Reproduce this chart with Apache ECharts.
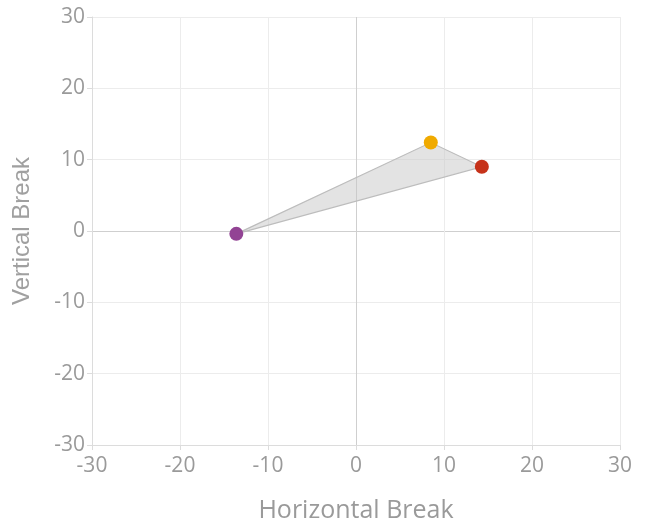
<!DOCTYPE html>
<html>
<head>
<meta charset="utf-8">
<script src="https://cdn.jsdelivr.net/npm/echarts@6/dist/echarts.min.js"></script>
<style>html,body{margin:0;padding:0;background:#fff;}#chart{width:650px;height:524px;}</style>
</head>
<body>
<div id="chart"></div>
<script>
// pitch break points (horizontal, vertical)
const pitchNames = ['Slider', 'Fastball', 'Sinker'];
const horizontalBreak = [-13.6, 8.5, 14.3];
const verticalBreak = [-0.4, 12.4, 9.0];
const pointColors = ['#924394', '#f0aa00', '#c6321a'];

const points = pitchNames.map((n, i) => ({
  name: n,
  value: [horizontalBreak[i], verticalBreak[i]],
  itemStyle: { color: pointColors[i], opacity: 1 }
}));

const gridColors = ['#ececec', '#ececec', '#ececec', '#cfcfcf', '#ececec', '#ececec', '#ececec'];
const tickFont = { color: '#9a9a9a', fontSize: 21, fontFamily: 'Open Sans' };

const chart = echarts.init(document.getElementById('chart'));
chart.setOption({
  animation: false,
  grid: { left: 92, right: 30, top: 17, bottom: 79, containLabel: false, outerBoundsMode: 'none' },
  xAxis: {
    type: 'value', min: -30, max: 30, interval: 10,
    name: 'Horizontal Break', nameLocation: 'middle', nameGap: 53,
    nameTextStyle: { color: '#9a9a9a', fontSize: 25, fontFamily: 'Open Sans' },
    axisLine: { onZero: false, lineStyle: { color: '#dcdcdc' } },
    axisTick: { show: true, length: 5, lineStyle: { color: '#dcdcdc' } },
    axisLabel: Object.assign({ margin: 11 }, tickFont),
    splitLine: { lineStyle: { color: gridColors } }
  },
  yAxis: {
    type: 'value', min: -30, max: 30, interval: 10,
    name: 'Vertical Break', nameLocation: 'middle', nameGap: 58,
    nameTextStyle: { color: '#a0a0a0', fontSize: 24, fontFamily: 'Liberation Sans, Arial, sans-serif' },
    axisLine: { show: true, onZero: false, lineStyle: { color: '#dcdcdc' } },
    axisTick: { show: true, length: 5, lineStyle: { color: '#dcdcdc' } },
    axisLabel: Object.assign({ margin: 7 }, tickFont),
    splitLine: { lineStyle: { color: gridColors } }
  },
  series: [
    {
      type: 'custom',
      silent: true,
      z: 1,
      data: [0],
      renderItem: function (params, api) {
        const pts = horizontalBreak.map((x, i) => api.coord([x, verticalBreak[i]]));
        return {
          type: 'polygon',
          shape: { points: pts },
          style: { fill: 'rgba(200,200,200,0.5)', stroke: '#bdbdbd', lineWidth: 1.2 }
        };
      }
    },
    {
      type: 'scatter',
      z: 3,
      symbolSize: 14,
      data: points
    }
  ]
});
</script>
</body>
</html>
